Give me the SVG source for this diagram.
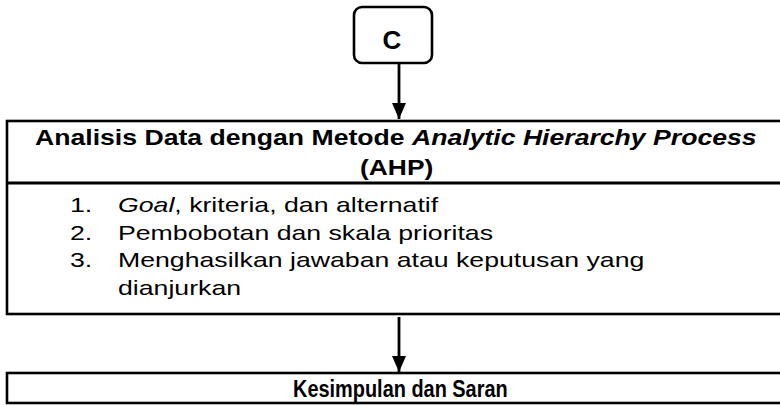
<svg xmlns="http://www.w3.org/2000/svg" width="780" height="405" viewBox="0 0 780 405">
<defs>
<style>
.box{fill:#fff;stroke:#000;stroke-width:2.6}
.t{font-family:"Liberation Sans",Arial,sans-serif;fill:#000}
.b{font-weight:bold}
.h{font-size:22px;font-weight:bold}
.l{font-size:21px}
.c{stroke:#000;stroke-width:2.8;fill:none}
</style>
<marker id="ah" markerWidth="16" markerHeight="16" refX="16" refY="7" orient="auto" markerUnits="userSpaceOnUse" viewBox="0 0 16 14">
<path d="M0,0 L16,7 L0,14 z" fill="#000"/>
</marker>
</defs>
<rect width="780" height="405" fill="#fff"/>
<g id="connectors">
<line class="c" x1="399" y1="63" x2="399" y2="119" marker-end="url(#ah)"/>
<line class="c" x1="399" y1="317" x2="399" y2="372" marker-end="url(#ah)"/>
</g>
<g id="nodeC">
<rect class="box" x="354" y="7" width="78" height="56" rx="8"/>
<text class="t b" x="392" y="49" font-size="26" text-anchor="middle">C</text>
</g>
<g id="nodeAHP">
<rect class="box" x="7" y="121" width="790" height="193"/>
<line class="c" x1="7" y1="183" x2="790" y2="183"/>
<text class="t h" transform="translate(35,145) scale(1.21,1)">Analisis Data dengan Metode <tspan font-style="italic">Analytic Hierarchy Process</tspan></text>
<text class="t h" transform="translate(360,175) scale(1.2,1)">(AHP)</text>
<g class="t l">
<text transform="translate(70,212) scale(1.27,1)">1.</text>
<text transform="translate(118,212) scale(1.27,1)"><tspan font-style="italic">Goal</tspan>, kriteria, dan alternatif</text>
<text transform="translate(70,240) scale(1.27,1)">2.</text>
<text transform="translate(118,240) scale(1.27,1)">Pembobotan dan skala prioritas</text>
<text transform="translate(70,267) scale(1.27,1)">3.</text>
<text transform="translate(118,267) scale(1.27,1)">Menghasilkan jawaban atau keputusan yang</text>
<text transform="translate(118,295) scale(1.27,1)">dianjurkan</text>
</g>
</g>
<g id="nodeKesimpulan">
<rect class="box" x="7" y="373" width="790" height="30"/>
<text class="t b" font-size="24" transform="translate(293,397) scale(0.83,1)">Kesimpulan dan Saran</text>
</g>
</svg>
